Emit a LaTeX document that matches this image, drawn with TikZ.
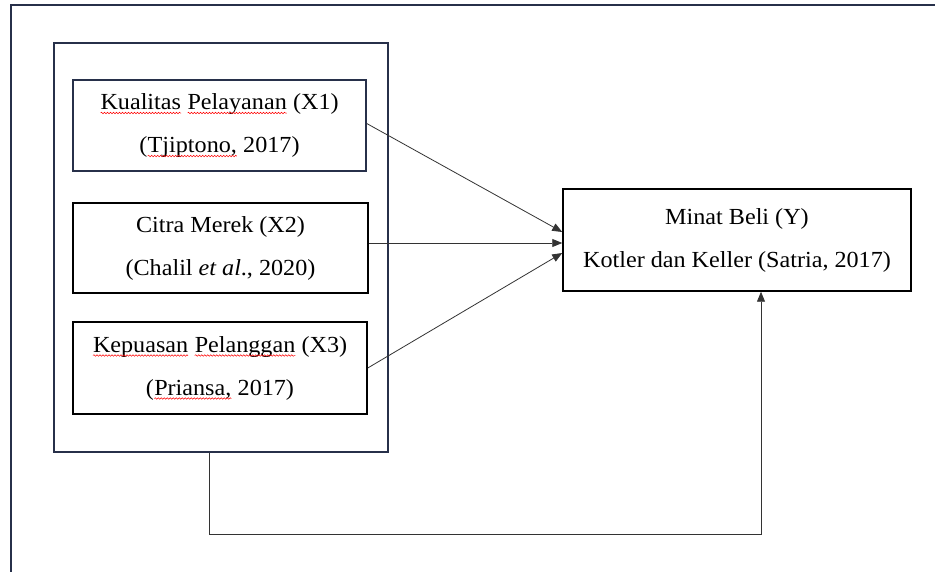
\documentclass[tikz,border=0pt]{standalone}
\usepackage{fontspec}
\setmainfont{Liberation Serif}[FakeStretch=1.05]
\usetikzlibrary{arrows.meta,calc,decorations.pathmorphing}
\definecolor{navy}{HTML}{27304A}
\newcommand\rw[1]{\tikz[baseline=(w.base)]{\node[draw=none, fill=none, inner sep=0pt, outer sep=0pt, minimum width=0pt, minimum height=0pt] (w) {#1};
  \draw[red, line width=0.5pt, decorate, decoration={snake, amplitude=0.8pt, segment length=3pt}] ([yshift=-3.5pt]w.base west) -- ([yshift=-3.5pt]w.base east);}}
\begin{document}
\begin{tikzpicture}[x=1pt,y=-1pt,
  box/.style={draw, line width=1.5pt, align=center, inner sep=0pt,
    font=\fontsize{23}{43}\selectfont},
  conn/.style={draw=black!80, line width=0.8pt, -{Triangle[length=10pt,width=8pt]}}]
\useasboundingbox (0,0) rectangle (935,572);
\fill[white] (0,0) rectangle (935,572);
\coordinate (ftop) at (935,5);
\coordinate (fcorner) at (11,5);
\coordinate (fbot) at (11,572);
\draw[navy, line width=1.6pt] (ftop) -- (fcorner) -- (fbot);
\node[draw=navy, line width=1.6pt, minimum width=334pt, minimum height=409pt, inner sep=0pt] (grp) at (221,247.5) {};
\node[box, draw=navy, minimum width=293pt, minimum height=91pt] (X1) at (219.5,125.5)
  {\rw{Kualitas} \rw{Pelayanan} (X1)\\(\rw{Tjiptono,} 2017)};
\node[box, minimum width=295pt, minimum height=90pt] (X2) at (220.5,248)
  {Citra Merek (X2)\\(Chalil \textit{et al}., 2020)};
\node[box, minimum width=294pt, minimum height=92pt] (X3) at (220,368)
  {\rw{Kepuasan} \rw{Pelanggan} (X3)\\(\rw{Priansa,} 2017)};
\node[box, minimum width=348pt, minimum height=102pt] (Y) at (737,240)
  {Minat Beli (Y)\\Kotler dan Keller (Satria, 2017)};
\coordinate (t1) at ([yshift=8pt]Y.west);
\coordinate (t2) at ([yshift=-3pt]Y.west);
\coordinate (t3) at ([yshift=-13pt]Y.west);
\draw[conn] ([yshift=2pt]X1.east) -- (t1);
\draw[conn] (X2.east |- t2) -- (t2);
\draw[conn] (X3.east) -- (t3);
\coordinate (fb1) at (209,534);
\coordinate (fb2) at (761,534);
\draw[conn] (grp.south -| fb1) -- (fb1) -- (fb2) -- (fb2 |- Y.south);
\end{tikzpicture}
\end{document}
